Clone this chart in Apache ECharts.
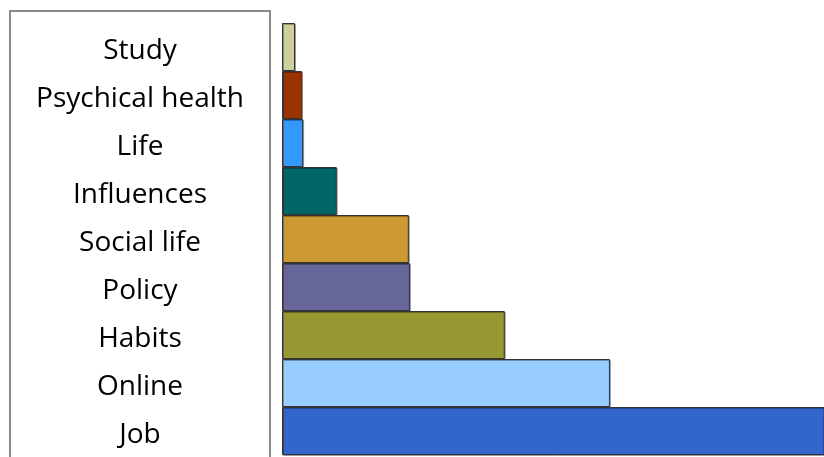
<!DOCTYPE html>
<html>
<head>
<meta charset="utf-8">
<script src="https://cdn.jsdelivr.net/npm/echarts@6/dist/echarts.min.js"></script>
<style>
  html, body { margin: 0; padding: 0; background: #fff; }
  #chart { width: 824px; height: 457px; }
</style>
</head>
<body>
<div id="chart"></div>
<script>
// categories top to bottom
const categories = ['Study', 'Psychical health', 'Life', 'Influences', 'Social life', 'Policy', 'Habits', 'Online', 'Job'];
// relative lengths (Job runs past the right edge)
const values = [2.4, 3.7, 3.9, 10.1, 23.4, 23.6, 41.1, 60.5, 104];
const colors = ['#CFCF9A', '#993300', '#3399FF', '#006666', '#CC9933', '#666699', '#999933', '#99CCFF', '#3366CC'];

const chart = echarts.init(document.getElementById('chart'));

chart.setOption({
  animation: false,
  grid: { left: 282, right: 0, top: 23, height: 432 },
  xAxis: {
    type: 'value',
    min: 0,
    max: 100,
    show: false
  },
  yAxis: {
    type: 'category',
    inverse: true,
    data: categories,
    axisLine: { show: false },
    axisTick: { show: false },
    axisLabel: {
      align: 'center',
      margin: 142,
      fontFamily: 'Open Sans',
      fontSize: 28,
      color: '#000',
      verticalAlign: 'top',
      lineHeight: 8
    }
  },
  graphic: [{
    type: 'rect',
    shape: { x: 10, y: 11, width: 260, height: 460 },
    style: { fill: 'none', stroke: '#8a8a8a', lineWidth: 2 }
  }],
  series: [{
    type: 'bar',
    clip: true,
    barCategoryGap: 0,
    data: values.map((v, i) => ({
      value: v,
      itemStyle: { color: colors[i] }
    })),
    itemStyle: {
      borderColor: '#333',
      borderWidth: 1,
      shadowColor: 'rgba(0,0,0,0.3)',
      shadowOffsetX: 1,
      shadowOffsetY: 1
    }
  }]
});
</script>
</body>
</html>
